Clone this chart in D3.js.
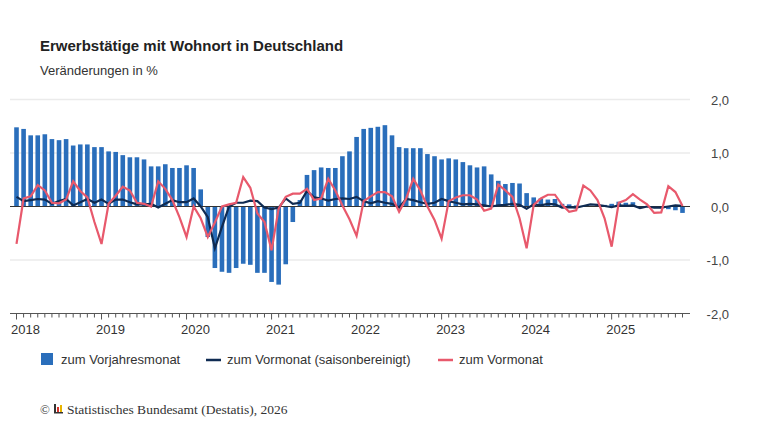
<!DOCTYPE html>
<html><head><meta charset="utf-8">
<script src="https://cdn.jsdelivr.net/npm/d3@7"></script>
<style>body{margin:0;background:#fff;font-family:Arial,"Liberation Sans",sans-serif;}</style>
</head><body>
<svg id="chart" width="768" height="432"></svg>
<script>
// Monatswerte Jan 2018 – Nov 2025
var years = [2018, 2019, 2020, 2021, 2022, 2023, 2024, 2025];
var yTicks = [2, 1, 0, -1, -2];

// zum Vorjahresmonat (Balken)
var vorjahr = [
  1.48,1.45,1.33,1.33,1.35,1.26,1.24,1.26,1.14,1.16,1.16,1.11,
  1.11,1.03,1.02,0.96,0.92,0.92,0.88,0.75,0.75,0.79,0.72,0.72,
  0.77,0.72,0.32,-0.57,-1.15,-1.22,-1.24,-1.15,-1.07,-1.09,-1.24,-1.24,
  -1.41,-1.46,-1.08,-0.29,0.12,0.59,0.68,0.73,0.72,0.72,0.94,1.03,
  1.30,1.45,1.47,1.49,1.52,1.33,1.11,1.09,1.09,1.09,0.98,0.94,
  0.88,0.90,0.88,0.83,0.77,0.73,0.75,0.60,0.48,0.42,0.44,0.43,
  0.25,0.17,0.15,0.13,0.14,0.05,0.04,0.02,0.01,0.00,0.02,0.03,
  0.05,0.09,0.07,0.08,0.00,-0.01,-0.02,-0.03,-0.05,-0.07,-0.12
];
// zum Vormonat (saisonbereinigt)
var saison = [
  0.18,0.10,0.12,0.14,0.13,0.05,0.10,0.14,0.02,0.08,0.14,0.07,
  0.13,0.05,0.13,0.13,0.08,0.04,0.04,0.05,-0.02,0.05,0.12,0.08,
  0.08,0.15,0.00,-0.20,-0.78,-0.38,0.00,0.07,0.07,0.11,0.10,-0.02,
  -0.05,-0.02,0.15,0.05,0.07,0.29,0.17,0.15,0.11,0.14,0.15,0.14,
  0.18,0.10,0.06,0.10,0.07,0.05,-0.02,0.14,0.12,0.08,0.05,0.07,
  0.14,0.10,0.07,0.04,0.05,0.04,0.02,0.00,0.02,0.03,0.05,0.03,
  -0.04,0.04,0.02,0.05,0.04,-0.02,-0.01,-0.02,0.01,0.04,0.03,0.01,
  -0.01,0.02,0.01,0.02,-0.03,0.00,-0.02,-0.02,0.00,0.02,0.01
];
// zum Vormonat
var vormonat = [
  -0.70,0.15,0.19,0.40,0.30,0.07,0.06,0.13,0.47,0.29,0.17,-0.29,
  -0.70,0.05,0.20,0.37,0.30,0.07,0.05,0.00,0.47,0.33,0.12,-0.20,
  -0.57,0.00,-0.22,-0.57,-0.30,0.00,0.04,0.07,0.55,0.35,-0.13,-0.29,
  -0.82,-0.04,0.18,0.24,0.24,0.33,0.12,0.15,0.52,0.30,0.02,-0.24,
  -0.55,0.10,0.19,0.27,0.27,0.19,-0.10,0.15,0.52,0.30,0.00,-0.25,
  -0.60,0.10,0.17,0.21,0.21,0.13,-0.08,-0.04,0.41,0.30,0.18,-0.22,
  -0.78,0.03,0.15,0.22,0.22,0.03,-0.10,-0.07,0.39,0.30,0.12,-0.22,
  -0.75,0.07,0.12,0.23,0.13,0.04,-0.12,-0.11,0.38,0.27,0.01
];

var svg = d3.select("#chart");
var x = d3.scaleLinear().domain([0, 94]).range([16.5, 682.5]);
var y = d3.scaleLinear().domain([-2, 2]).range([313.5, 99.5]);
var left = 10, right = 690;

// Gitternetz
svg.selectAll(".grid").data(yTicks.filter(d => d !== 0 && d !== -2)).enter()
  .append("line").attr("x1", left).attr("x2", right)
  .attr("y1", d => y(d)).attr("y2", d => y(d))
  .attr("stroke", "#ebebeb").attr("stroke-width", 1.5);

// Achsenbeschriftung rechts
svg.selectAll(".ylab").data(yTicks).enter().append("text")
  .attr("x", 729).attr("y", d => y(d) + 5).attr("text-anchor", "end")
  .attr("font-size", 13).attr("fill", "#444")
  .text(d => d3.format(".1f")(d).replace(".", ",").replace("−", "-"));

// Balken
svg.selectAll(".bar").data(vorjahr).enter().append("rect")
  .attr("x", (d, i) => x(i) - 2.3).attr("width", 4.6)
  .attr("y", d => y(Math.max(0, d))).attr("height", d => Math.abs(y(d) - y(0)))
  .attr("fill", "#2a6ebb");

// Nulllinie
svg.append("line").attr("x1", left).attr("x2", right)
  .attr("y1", y(0)).attr("y2", y(0)).attr("stroke", "#333").attr("stroke-width", 1);

var line = d3.line().x((d, i) => x(i)).y(d => y(d));
svg.append("path").datum(saison).attr("d", line)
  .attr("fill", "none").attr("stroke", "#0f2b52").attr("stroke-width", 2.2);
svg.append("path").datum(vormonat).attr("d", line)
  .attr("fill", "none").attr("stroke", "#e8596c").attr("stroke-width", 2.2);

// x-Achse
svg.append("line").attr("x1", left).attr("x2", right)
  .attr("y1", y(-2)).attr("y2", y(-2)).attr("stroke", "#555").attr("stroke-width", 1);
svg.selectAll(".tick").data(d3.range(95)).enter().append("line")
  .attr("x1", d => x(d)).attr("x2", d => x(d))
  .attr("y1", y(-2)).attr("y2", d => y(-2) + (d % 12 === 0 ? 6 : 4))
  .attr("stroke", "#555");
svg.selectAll(".xlab").data(years).enter().append("text")
  .attr("x", (d, i) => x(i * 12) + 9).attr("y", 334).attr("text-anchor", "middle")
  .attr("font-size", 13).attr("fill", "#333").text(d => d);

// Titel
svg.append("text").attr("x", 40).attr("y", 51).attr("font-size", 15)
  .attr("font-weight", "bold").attr("fill", "#222").text("Erwerbstätige mit Wohnort in Deutschland");
svg.append("text").attr("x", 40).attr("y", 75).attr("font-size", 13)
  .attr("fill", "#333").text("Veränderungen in %");

// Legende
var lg = svg.append("g").attr("font-size", 13).attr("fill", "#333");
lg.append("rect").attr("x", 41).attr("y", 353).attr("width", 12).attr("height", 12).attr("fill", "#2a6ebb");
lg.append("text").attr("x", 61).attr("y", 364).text("zum Vorjahresmonat");
lg.append("line").attr("x1", 206).attr("x2", 221).attr("y1", 360).attr("y2", 360).attr("stroke", "#0f2b52").attr("stroke-width", 2.5);
lg.append("text").attr("x", 227).attr("y", 364).text("zum Vormonat (saisonbereinigt)");
lg.append("line").attr("x1", 438).attr("x2", 453).attr("y1", 360).attr("y2", 360).attr("stroke", "#e8596c").attr("stroke-width", 2.5);
lg.append("text").attr("x", 459).attr("y", 364).text("zum Vormonat");

// Quelle
var ft = svg.append("g");
ft.append("text").attr("x", 40).attr("y", 414).attr("font-size", 13).attr("font-family", "Liberation Serif, serif").attr("fill", "#333").text("©");
ft.append("rect").attr("x", 54).attr("y", 404).attr("width", 2).attr("height", 9).attr("fill", "#333");
ft.append("rect").attr("x", 57).attr("y", 407).attr("width", 2).attr("height", 6).attr("fill", "#d9332a");
ft.append("rect").attr("x", 60).attr("y", 405).attr("width", 2).attr("height", 8).attr("fill", "#e8b400");
ft.append("rect").attr("x", 54).attr("y", 412).attr("width", 9).attr("height", 1.5).attr("fill", "#333");
ft.append("text").attr("x", 67).attr("y", 414).attr("font-size", 13.5).attr("font-family", "Liberation Serif, serif")
  .attr("fill", "#333").text("Statistisches Bundesamt (Destatis), 2026");
</script>
</body></html>
